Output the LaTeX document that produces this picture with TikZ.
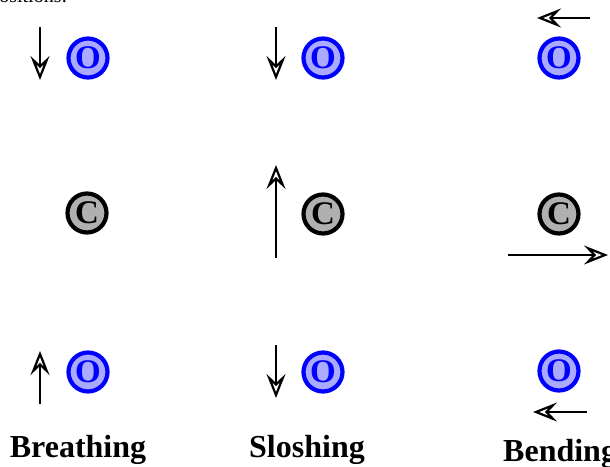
\documentclass[tikz,border=0pt]{standalone}
\usepackage{fontspec}
\setmainfont{Liberation Serif}
\usetikzlibrary{arrows.meta}
\definecolor{ofill}{RGB}{170,170,255}
\definecolor{cfill}{RGB}{176,176,176}
\begin{document}
\begin{tikzpicture}[x=1pt,y=-1pt,
  atom/.style={circle,line width=4.2pt,minimum size=39pt,inner sep=0pt,
    font=\fontsize{33}{33}\selectfont\bfseries},
  atomO/.style={atom,draw=blue,fill=ofill,text=blue},
  atomC/.style={atom,draw=black,fill=cfill,text=black},
  mv/.style={line width=2.2pt,-{Stealth[open,fill=white,length=24pt,width=19pt,inset=9pt,line width=2.2pt]}},
  lab/.style={font=\fontsize{32}{32}\selectfont\bfseries,anchor=base}]
\clip (0,0) rectangle (610,466);
\path[use as bounding box] (0,0) rectangle (610,466);
% top cut-off text
\node[anchor=base west,font=\fontsize{20}{20}\selectfont,inner sep=0pt] (top) at (-12,2) {Positions:};
% Breathing
\node[atomO] (o1a) at (88,58) {O};
\node[atomC] (c1) at (87,213) {C};
\node[atomO] (o1b) at (88,372) {O};
\coordinate (a1s) at (40,27); \coordinate (a1e) at (40,80);
\coordinate (b1s) at (40,404); \coordinate (b1e) at (40,351);
\draw[mv] (a1s) -- (a1e);
\draw[mv] (b1s) -- (b1e);
\node[lab] (l1) at (78,457) {Breathing};
% Sloshing
\node[atomO] (o2a) at (323,58) {O};
\node[atomC] (c2) at (323,214) {C};
\node[atomO] (o2b) at (323,372) {O};
\coordinate (a2s) at (276,27); \coordinate (a2e) at (276,80);
\coordinate (m2s) at (276,258); \coordinate (m2e) at (276,165);
\coordinate (b2s) at (276,345); \coordinate (b2e) at (276,398);
\draw[mv] (a2s) -- (a2e);
\draw[mv] (m2s) -- (m2e);
\draw[mv] (b2s) -- (b2e);
\node[lab] (l2) at (307,457) {Sloshing};
% Bending
\node[atomO] (o3a) at (559,58) {O};
\node[atomC] (c3) at (559,214) {C};
\node[atomO] (o3b) at (559,371) {O};
\coordinate (a3s) at (590,18); \coordinate (a3e) at (537,18);
\coordinate (m3s) at (508,255); \coordinate (m3e) at (608,255);
\coordinate (b3s) at (587,412); \coordinate (b3e) at (533,412);
\draw[mv] (a3s) -- (a3e);
\draw[mv] (m3s) -- (m3e);
\draw[mv] (b3s) -- (b3e);
\node[lab,anchor=base west,inner sep=0pt] (l3) at (503,461) {Bending};
\end{tikzpicture}
\end{document}
